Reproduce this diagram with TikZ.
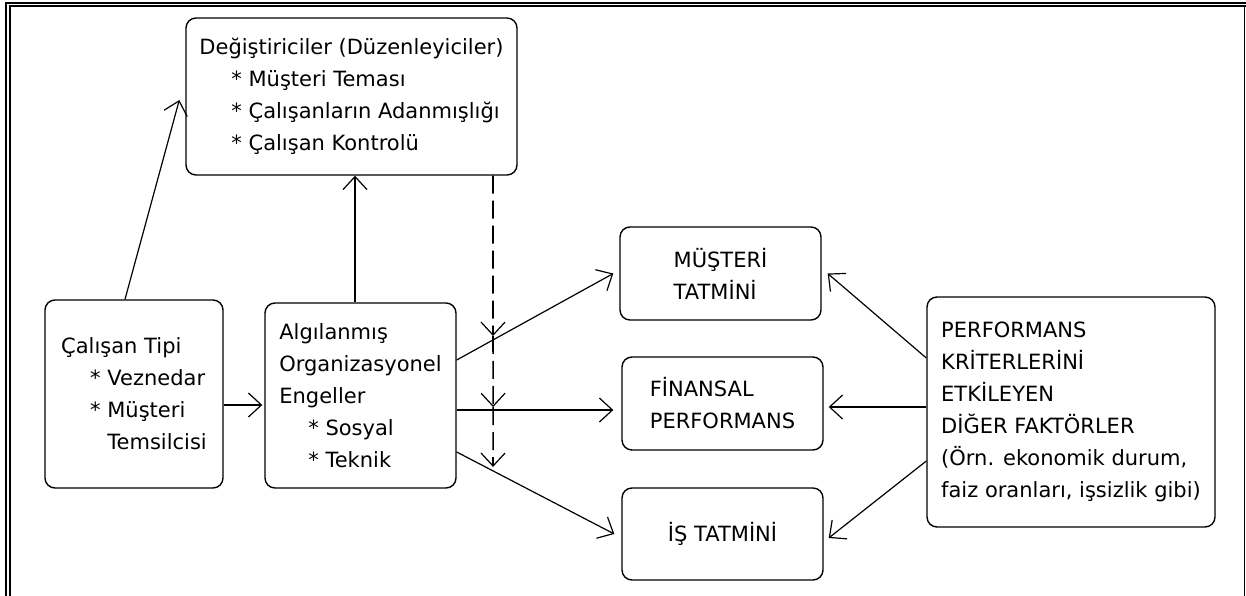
\documentclass[tikz,border=0pt]{standalone}
\usepackage{fontspec}
\setmainfont{DejaVu Sans}
\usetikzlibrary{arrows.meta,calc}
\begin{document}
\begin{tikzpicture}[x=1pt,y=-1pt,
  box/.style={draw, line width=1.4pt, rounded corners=10pt, inner sep=0pt, align=left,
    font=\fontsize{21}{32}\selectfont},
  conn/.style={line width=1.2pt, -{Straight Barb[length=13pt,width=24pt,line width=1.2pt]}},
  dashconn/.style={conn, line width=1.6pt, dash pattern=on 18pt off 7pt},
  frameline/.style={line width=2pt}]
\useasboundingbox (0,0) rectangle (1246,596);
% frame
\draw[frameline] (6,596) -- (6,2.7) -- (1246,2.7);
\draw[frameline] (9.5,596) -- (9.5,6.3) -- (1246,6.3);
\draw[line width=1.3pt] (1244.5,6.3) -- (1244.5,596);
% boxes
\node[box, minimum width=331pt, minimum height=157pt] (mod) at (351.5,96.5)
  {Değiştiriciler (Düzenleyiciler)\\
   \hspace*{32pt}* Müşteri Teması\\
   \hspace*{32pt}* Çalışanların Adanmışlığı\\
   \hspace*{32pt}* Çalışan Kontrolü};
\node[box, minimum width=178pt, minimum height=188pt] (cal) at (134,394)
  {Çalışan Tipi\\
   \hspace*{29pt}* Veznedar\\
   \hspace*{29pt}* Müşteri\\
   \hspace*{29pt}\phantom{* }Temsilcisi};
\node[box, minimum width=191pt, minimum height=185pt] (alg) at (360.5,395.5)
  {Algılanmış\\
   Organizasyonel\\
   Engeller\\
   \hspace*{29pt}* Sosyal\\
   \hspace*{29pt}* Teknik};
\node[box, minimum width=201pt, minimum height=93pt] (mus) at (720.5,273.5)
  {MÜŞTERİ\\TATMİNİ};
\node[box, minimum width=201pt, minimum height=93pt] (fin) at (722.5,403.5)
  {FİNANSAL\\PERFORMANS};
\node[box, minimum width=201pt, minimum height=92pt] (is) at (722.5,534)
  {İŞ TATMİNİ};
\node[box, minimum width=288pt, minimum height=230pt] (oth) at (1071,412)
  {PERFORMANS\\
   KRİTERLERİNİ\\
   ETKİLEYEN\\
   DİĞER FAKTÖRLER\\
   (Örn. ekonomik durum,\\
   faiz oranları, işsizlik gibi)};
% connectors on the left
\draw[conn] ([xshift=-9pt]cal.north) -- ([xshift=-6pt,yshift=-3.5pt]mod.west);
\draw[conn] ([xshift=-5.5pt]alg.north) -- ([xshift=3.5pt]mod.south);
\draw[conn] ([yshift=-11pt]cal.east) -- ([xshift=-2pt,yshift=-9.5pt]alg.west);
% connectors from alg
\coordinate (a1s) at ([yshift=35.5pt]alg.east);
\coordinate (a1e) at ([xshift=-6pt]mus.west);
\coordinate (a2s) at ([yshift=-14.5pt]alg.east);
\coordinate (a2e) at ([xshift=-8pt,yshift=-6.5pt]fin.west);
\coordinate (a3s) at ([yshift=-56.5pt]alg.east);
\coordinate (a3e) at ([xshift=-7pt]is.west);
\draw[conn] (a1s) -- (a1e);
\draw[conn] (a2s) -- (a2e);
\draw[conn] (a3s) -- (a3e);
% dashed moderator line
\coordinate (dtop) at ([xshift=141.5pt]mod.south);
\coordinate (dbot) at ([yshift=-400pt]dtop);
\coordinate (x1) at (intersection of a1s--a1e and dtop--dbot);
\coordinate (x2) at (intersection of a2s--a2e and dtop--dbot);
\coordinate (x3) at (intersection of a3s--a3e and dtop--dbot);
\draw[dashconn] (dtop) -- ([yshift=4pt]x1);
\draw[dashconn] ([yshift=4pt]x1) -- ([yshift=3pt]x2);
\draw[dashconn] ([yshift=3pt]x2) -- ([yshift=4pt]x3);
% connectors from the other-factors box
\draw[conn] ([yshift=54pt]oth.west) -- ([xshift=6pt]mus.east);
\draw[conn] ([yshift=5pt]oth.west) -- ([xshift=5pt,yshift=-3.5pt]fin.east);
\draw[conn] ([yshift=-49pt]oth.west) -- ([xshift=5pt,yshift=-4pt]is.east);
\end{tikzpicture}
\end{document}
